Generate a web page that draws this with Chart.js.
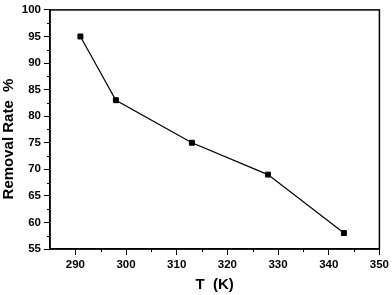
<!DOCTYPE html>
<html>
<head>
<meta charset="utf-8">
<script src="https://cdn.jsdelivr.net/npm/chart.js@4.4.1/dist/chart.umd.min.js"></script>
<style>
html,body{margin:0;padding:0;background:#fff;}
#wrap{width:392px;height:295px;position:relative;}
</style>
</head>
<body>
<div id="wrap"><canvas id="c" width="392" height="295"></canvas></div>
<script>
const temperatures = [291, 298, 313, 328, 343];
const removalRates = [95, 83, 75, 69, 58];
const xTickValues = [290, 300, 310, 320, 330, 340, 350];
const xMinorValues = [295, 305, 315, 325, 335, 345];
const yMinorValues = [57.5, 62.5, 67.5, 72.5, 77.5, 82.5, 87.5, 92.5, 97.5];
const xTitle = 'T  (K)';
const yTitle = 'Removal Rate  %';

const FONT = "'Liberation Sans', Arial, sans-serif";

const framePlugin = {
  id: 'frame',
  afterDraw(chart) {
    const {ctx, chartArea: a, scales} = chart;
    ctx.save();
    ctx.strokeStyle = '#000';
    ctx.lineWidth = 1.5;
    ctx.strokeRect(a.left, a.top, a.right - a.left, a.bottom - a.top);
    ctx.lineWidth = 1;
    ctx.beginPath();
    xMinorValues.forEach(v => {
      const px = Math.round(scales.x.getPixelForValue(v)) + 0.5;
      ctx.moveTo(px, a.bottom);
      ctx.lineTo(px, a.bottom + 3);
    });
    yMinorValues.forEach(v => {
      const py = Math.round(scales.y.getPixelForValue(v)) + 0.5;
      ctx.moveTo(a.left, py);
      ctx.lineTo(a.left - 3, py);
    });
    ctx.stroke();
    // y axis title
    ctx.fillStyle = '#000';
    ctx.font = "bold 15px " + FONT;
    ctx.textAlign = 'center';
    ctx.textBaseline = 'middle';
    ctx.translate(9, 139);
    ctx.rotate(-Math.PI / 2);
    ctx.fillText(yTitle, 0, 0);
    ctx.restore();
  }
};

new Chart(document.getElementById('c'), {
  type: 'scatter',
  data: {
    datasets: [{
      data: temperatures.map((t, i) => ({x: t, y: removalRates[i]})),
      showLine: true,
      borderColor: '#000',
      borderWidth: 1.2,
      backgroundColor: '#000',
      pointStyle: 'rect',
      pointRadius: 3.5,
      pointBorderWidth: 1,
      pointBorderColor: '#000',
      pointBackgroundColor: '#000',
      tension: 0
    }]
  },
  options: {
    responsive: false,
    animation: false,
    devicePixelRatio: 1,
    layout: {padding: {top: 7, right: 12, left: 0, bottom: 0}},
    plugins: {legend: {display: false}, tooltip: {enabled: false}},
    scales: {
      x: {
        type: 'linear',
        min: 285, max: 350,
        afterBuildTicks: s => { s.ticks = xTickValues.map(v => ({value: v})); },
        afterFit: s => { s.height = 46; },
        grid: {drawOnChartArea: false, tickLength: 6, tickWidth: 1, tickColor: '#000'},
        border: {color: '#000', width: 1.5},
        ticks: {color: '#000', padding: 3, maxRotation: 0, font: {family: FONT, size: 11.5, weight: 'bold'}},
        title: {display: true, text: xTitle, color: '#000', padding: {top: 0, bottom: 1}, font: {family: FONT, size: 15, weight: 'bold'}}
      },
      y: {
        type: 'linear',
        min: 55, max: 100,
        ticks: {stepSize: 5, color: '#000', padding: 3, font: {family: FONT, size: 11.5, weight: 'bold'}},
        afterFit: s => { s.width = 50; },
        grid: {drawOnChartArea: false, tickLength: 6, tickWidth: 1, tickColor: '#000'},
        border: {color: '#000', width: 1.5},
        title: {display: false}
      }
    }
  },
  plugins: [framePlugin]
});
</script>
</body>
</html>
